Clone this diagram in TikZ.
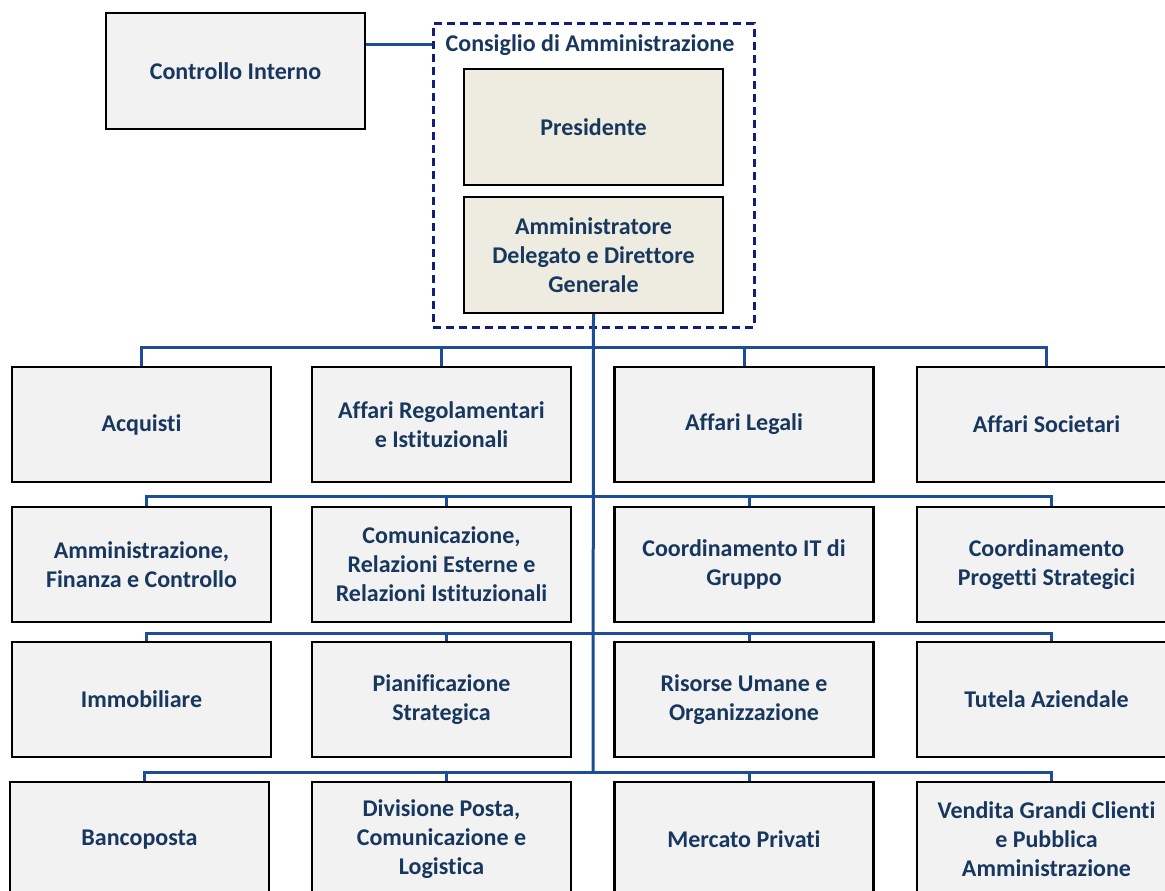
\documentclass[tikz,border=0pt]{standalone}
\usepackage{fontspec}
\setmainfont[Ligatures=NoCommon]{Carlito}
\definecolor{txtcol}{RGB}{23,55,94}
\definecolor{conncol}{RGB}{28,77,150}
\definecolor{boardcol}{RGB}{20,30,120}
\definecolor{grayfill}{RGB}{242,242,242}
\definecolor{beigefill}{RGB}{238,236,225}
\tikzset{
  unit/.style={draw=black, line width=2.2pt, fill=grayfill, minimum width=259pt,
    minimum height=115pt, align=center, inner sep=0pt, text=txtcol,
    font=\bfseries\fontsize{24}{29}\selectfont},
  headunit/.style={unit, fill=beigefill, minimum height=116pt},
  link/.style={draw=conncol, line width=3pt},
  boardbox/.style={draw=boardcol, line width=3pt, dash pattern=on 8pt off 5pt,
    minimum width=321pt, minimum height=303pt, inner sep=0pt},
  titletext/.style={text=txtcol, font=\bfseries\fontsize{24}{29}\selectfont, inner sep=0pt}
}
\begin{document}
\begin{tikzpicture}[x=1pt,y=-1pt]
\useasboundingbox (0,0) rectangle (1165,891);
\clip (0,0) rectangle (1165,891);

% top part
\node[unit, minimum height=116pt] (ci) at (235.5,71) {Controllo Interno};
\node[boardbox] (board) at (593.5,175.5) {};
\node[titletext] (title) at (590,45) {Consiglio di Amministrazione};
\node[headunit] (pres) at (593.5,127) {Presidente};
\node[headunit] (ad) at (593.5,255) {Amministratore\\Delegato e Direttore\\Generale};

% row 1
\node[unit] (a1) at (141.5,424.5) {Acquisti};
\node[unit] (a2) at (441.5,424.5) {Affari Regolamentari\\e Istituzionali};
\node[unit] (a3) at (744,424.5) {Affari Legali};
\node[unit] (a4) at (1046.5,424.5) {Affari Societari};
% row 2
\node[unit] (b1) at (141.5,564.5) {Amministrazione,\\Finanza e Controllo};
\node[unit] (b2) at (441.5,564.5) {Comunicazione,\\Relazioni Esterne e\\Relazioni Istituzionali};
\node[unit] (b3) at (744,564.5) {Coordinamento IT di\\Gruppo};
\node[unit] (b4) at (1046.5,564.5) {Coordinamento\\Progetti Strategici};
% row 3
\node[unit] (c1) at (141.5,699.5) {Immobiliare};
\node[unit] (c2) at (441.5,699.5) {Pianificazione\\Strategica};
\node[unit] (c3) at (744,699.5) {Risorse Umane e\\Organizzazione};
\node[unit] (c4) at (1046.5,699.5) {Tutela Aziendale};
% row 4
\node[unit] (d1) at (139.5,839.5) {Bancoposta};
\node[unit] (d2) at (441.5,839.5) {Divisione Posta,\\Comunicazione e\\Logistica};
\node[unit] (d3) at (744,839.5) {Mercato Privati};
\node[unit] (d4) at (1046.5,839.5) {Vendita Grandi Clienti\\e Pubblica\\Amministrazione};

% connectors
\coordinate (bus1) at (593,347);
\coordinate (bus2) at (593,496);
\coordinate (bus3) at (593,633);
\coordinate (bus4) at (593,772);

\draw[link] (ci.east |- title) -- (board.west |- title);
\draw[link] (ad.south) -- (bus4);

\draw[link] (a1.north) -- (a1.north |- bus1) -- (a4.north |- bus1) -- (a4.north);
\draw[link] (a2.north) -- (a2.north |- bus1);
\draw[link] (a3.north) -- (a3.north |- bus1);

\foreach \r/\b in {b/bus2, c/bus3, d/bus4}{
  \draw[link] ([xshift=5pt]\r1.north) -- ([xshift=5pt]\r1.north |- \b)
     -- ([xshift=5pt]\r4.north |- \b) -- ([xshift=5pt]\r4.north);
  \draw[link] ([xshift=5pt]\r2.north) -- ([xshift=5pt]\r2.north |- \b);
  \draw[link] ([xshift=5pt]\r3.north) -- ([xshift=5pt]\r3.north |- \b);
}
\end{tikzpicture}
\end{document}
